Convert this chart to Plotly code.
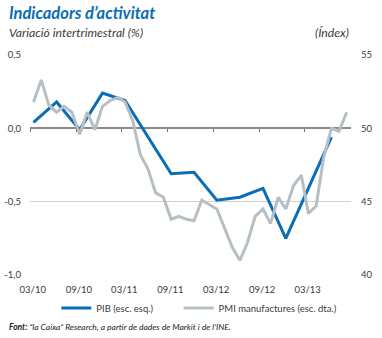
import plotly.graph_objects as go

# PIB quarterly (% q/q), plotted mid quarter-end month
pib_dates = ["2010-03-15", "2010-06-15", "2010-09-15", "2010-12-15",
             "2011-03-15", "2011-06-15", "2011-09-15", "2011-12-15",
             "2012-03-15", "2012-06-15", "2012-09-15", "2012-12-15",
             "2013-03-15", "2013-06-15"]
pib_values = [0.04, 0.18, -0.01, 0.24, 0.19, -0.06, -0.31, -0.30,
              -0.49, -0.47, -0.41, -0.75, -0.41, -0.06]

# PMI manufactures monthly (index)
pmi_dates = ["2010-%02d-15" % m for m in range(3, 13)] + \
            ["2011-%02d-15" % m for m in range(1, 13)] + \
            ["2012-%02d-15" % m for m in range(1, 13)] + \
            ["2013-%02d-15" % m for m in range(1, 9)]
pmi_values = [51.8, 53.3, 51.6, 51.1, 51.5, 51.1, 49.6, 51.1, 49.9, 51.5,
              51.9, 52.1, 51.8, 50.5, 48.2, 47.2, 45.6, 45.3, 43.8, 44.0, 43.8, 43.7,
              45.1, 44.8, 44.5, 43.2, 41.9, 41.0, 42.2, 44.0, 44.5, 43.5, 45.3, 44.5,
              46.1, 46.8, 44.2, 44.7, 48.0, 50.0, 49.8, 51.1]

x_tick_dates = ["2010-03-01", "2010-09-01", "2011-03-01", "2011-09-01",
                "2012-03-01", "2012-09-01", "2013-03-01"]
x_tick_labels = ["03/10", "09/10", "03/11", "09/11", "03/12", "09/12", "03/13"]
x_label_dates = ["2010-03-12", "2010-09-12", "2011-03-12", "2011-09-12",
                 "2012-03-12", "2012-09-12", "2013-03-12"]

left_tickvals = [0.5, 0.0, -0.5, -1.0]
left_ticktext = ["0,5", "0,0", "-0,5", "-1,0"]
right_tickvals = [40, 45, 50, 55]

BLUE = "#0b6db5"
GRAY = "#b6c0c4"
TXT = "#3a3a3a"
FONT = "Lato"

fig = go.Figure()
fig.add_trace(go.Scatter(x=pib_dates, y=pib_values, mode="lines", name="PIB (esc. esq.)",
                         line=dict(color=BLUE, width=3), yaxis="y", xaxis="x", legend="legend"))
fig.add_trace(go.Scatter(x=pmi_dates, y=pmi_values, mode="lines", name="PMI manufactures (esc. dta.)",
                         line=dict(color=GRAY, width=3), yaxis="y2", xaxis="x", legend="legend2"))
# carrier for the tick marks on the zero line
fig.add_trace(go.Scatter(x=[x_tick_dates[0]], y=[None], xaxis="x2", yaxis="y",
                         showlegend=False, hoverinfo="skip"))

legend_common = dict(orientation="h", y=-0.15, xanchor="left", yanchor="middle",
                     font=dict(size=9.5, color=TXT), itemwidth=30, bgcolor="rgba(0,0,0,0)")

xrange = ["2010-03-01", "2013-09-01"]
fig.update_layout(
    width=382, height=338,
    margin=dict(l=30, r=31, t=55, b=63, autoexpand=False),
    paper_bgcolor="white", plot_bgcolor="white",
    font=dict(family=FONT, size=9, color=TXT),
    showlegend=True,
    legend=dict(x=0.082, **legend_common),
    legend2=dict(x=0.463, **legend_common),
    xaxis=dict(range=xrange, type="date", tickvals=x_label_dates, ticktext=x_tick_labels,
               showgrid=False, showline=False, zeroline=False, ticks="",
               ticklabelstandoff=7, tickfont=dict(size=9.5, color=TXT)),
    xaxis2=dict(range=xrange, type="date", tickvals=x_tick_dates, overlaying="x",
                anchor="free", position=2/3, showgrid=False, showline=False, zeroline=False,
                ticks="outside", ticklen=3, tickcolor="#777", tickwidth=1, showticklabels=False),
    yaxis=dict(range=[-1.0, 0.5], tickvals=left_tickvals, ticktext=left_ticktext,
               showgrid=True, gridcolor="#cfcfcf", gridwidth=1,
               zeroline=True, zerolinecolor="#8a8a8a", zerolinewidth=1.5,
               ticks="", ticklabelstandoff=8, tickfont=dict(size=9.5, color=TXT)),
    yaxis2=dict(range=[40, 55], tickvals=right_tickvals, overlaying="y", side="right",
                showgrid=False, zeroline=False, ticks="", ticklabelstandoff=9,
                tickfont=dict(size=9.5, color=TXT)),
)

fig.add_annotation(text="<b><i>Indicadors d’activitat</i></b>", xref="paper", yref="paper",
                   x=-0.072, y=1.19, xanchor="left", yanchor="middle", showarrow=False,
                   font=dict(size=16.5, color=BLUE, family=FONT))
fig.add_annotation(text="<i>Variació intertrimestral (%)</i>", xref="paper", yref="paper",
                   x=-0.072, y=1.10, xanchor="left", yanchor="middle", showarrow=False,
                   font=dict(size=12.2, color=TXT, family=FONT))
fig.add_annotation(text="<i>(Índex)</i>", xref="paper", yref="paper",
                   x=1.0, y=1.10, xanchor="right", yanchor="middle", showarrow=False,
                   font=dict(size=12.2, color=TXT, family=FONT))
fig.add_annotation(text="<b><i>Font:</i></b><i> “la Caixa” Research, a partir de dades de Markit i de l’INE.</i>",
                   xref="paper", yref="paper", x=-0.072, y=-0.236, xanchor="left", yanchor="middle",
                   showarrow=False, font=dict(size=8.5, color="#222", family=FONT))

fig.write_html("out.html")
